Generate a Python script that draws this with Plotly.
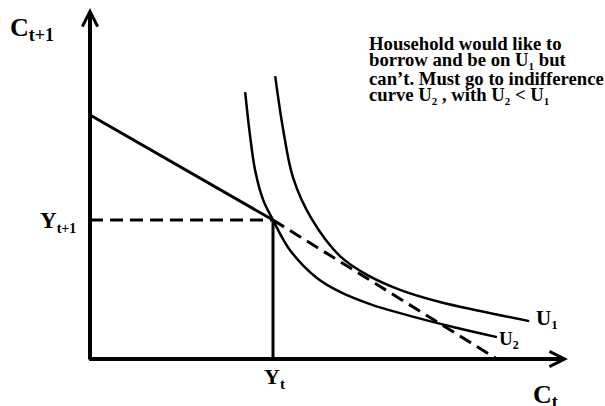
import plotly.graph_objects as go

W, H = 605, 406

# ---- data (economic units) ----
Y_t = 5.0
Y_t1 = 4.0
budget_solid_x = [0.0, 5.0]
budget_solid_y = [7.02, 4.0]
budget_dash_x = [5.0, 11.12]
budget_dash_y = [4.0, 0.0]

u1_x = [5.06, 5.27, 5.55, 6.04, 6.83, 7.57, 8.47, 9.56, 10.66, 12.0]
u1_y = [8.14, 6.65, 5.21, 4.06, 2.96, 2.42, 1.99, 1.64, 1.38, 1.09]
u2_x = [4.24, 4.37, 4.51, 4.73, 5.00, 5.46, 6.20, 6.83, 7.65, 8.47, 9.92, 11.12]
u2_y = [7.68, 6.45, 5.44, 4.58, 4.00, 3.14, 2.33, 1.93, 1.58, 1.32, 0.92, 0.63]

x_axis_end = 13.06
y_axis_end = 10.10

FONT = "Liberation Serif, Times New Roman, serif"

fig = go.Figure()

def line(x, y, width=3, dash=None):
    fig.add_trace(go.Scatter(x=x, y=y, mode="lines", hoverinfo="skip",
                             line=dict(color="black", width=width, dash=dash)))

line([0, Y_t], [Y_t1, Y_t1], 3, "13px,7px")
line([Y_t, Y_t], [0, Y_t1], 3)
line(budget_solid_x, budget_solid_y, 3)
line(budget_dash_x, budget_dash_y, 3, "13px,7px")
fig.add_trace(go.Scatter(x=u1_x, y=u1_y, mode="lines", hoverinfo="skip",
                         line=dict(color="black", width=2.5, shape="spline", smoothing=1)))
fig.add_trace(go.Scatter(x=u2_x, y=u2_y, mode="lines", hoverinfo="skip",
                         line=dict(color="black", width=2.5, shape="spline", smoothing=1)))

ann = []
# axes with arrows
ann.append(dict(x=0, y=y_axis_end, ax=0, ay=-0.06, xref="x", yref="y", axref="x", ayref="y",
                showarrow=True, arrowhead=5, arrowsize=0.75, arrowwidth=4, arrowcolor="black",
                standoff=0, text=""))
ann.append(dict(x=x_axis_end, y=0, ax=-0.06, ay=0, xref="x", yref="y", axref="x", ayref="y",
                showarrow=True, arrowhead=5, arrowsize=0.75, arrowwidth=4, arrowcolor="black",
                standoff=0, text=""))

def lab(text, x, y, size, xanchor="left", yanchor="middle"):
    return dict(text=text, x=x / W, y=1 - y / H, xref="paper", yref="paper", showarrow=False,
                xanchor=xanchor, yanchor=yanchor,
                font=dict(family=FONT, size=size, color="black"))

def sub(t, s):
    return "<sub><span style='font-size:%spx'>%s</span></sub>" % (s, t)

ann.append(lab("<b>C" + sub("t+1", 18) + "</b>", 8, 29, 26))
ann.append(lab("<b>Y" + sub("t+1", 14) + "</b>", 78, 222, 23, xanchor="right"))
ann.append(lab("<b>Y" + sub("t", 15) + "</b>", 274, 378, 22, xanchor="center"))
ann.append(lab("<b>C" + sub("t", 18) + "</b>", 531, 396, 26))
ann.append(lab("<b>U" + sub("1", 13) + "</b>", 534, 319, 21))
ann.append(lab("<b>U" + sub("2", 12) + "</b>", 497, 340, 19))

lines = [
    "<b>Household would like to</b>",
    "<b>borrow and be on U" + sub("1", 11) + " but</b>",
    "<b>can’t. Must go to indifference</b>",
    "<b>curve U" + sub("2", 11) + " , with U" + sub("2", 11) + " &lt; U" + sub("1", 11) + "</b>",
]
ys = [43, 61, 78, 95]
for t, yy in zip(lines, ys):
    ann.append(lab(t, 367, yy, 18.7))

fig.update_layout(
    width=W, height=H,
    margin=dict(l=0, r=0, t=0, b=0),
    paper_bgcolor="white", plot_bgcolor="white",
    showlegend=False,
    xaxis=dict(range=[-90 / 36.6, 515 / 36.6], visible=False, fixedrange=True),
    yaxis=dict(range=[-47 / 34.75, 359 / 34.75], visible=False, fixedrange=True),
    annotations=ann,
)

fig.write_html("out.html",
               config={"displayModeBar": False},
               post_script="document.body.style.margin='0';document.body.style.overflow='hidden';")
